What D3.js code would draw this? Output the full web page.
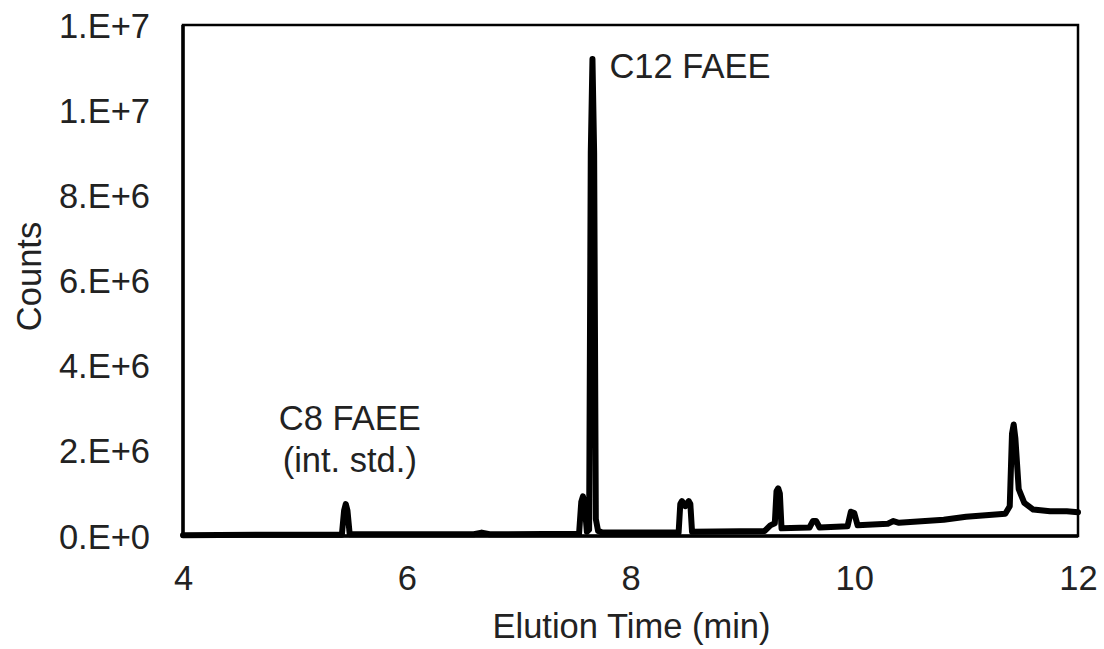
<!DOCTYPE html>
<html>
<head>
<meta charset="utf-8">
<script src="https://cdn.jsdelivr.net/npm/d3@7"></script>
<style>
  html, body { margin: 0; padding: 0; background: #fff; }
  svg { display: block; }
  text { font-family: Arial, "Liberation Sans", sans-serif; fill: #222; }
</style>
</head>
<body>
<svg id="chart" width="1104" height="649"></svg>
<script>
// ---- data ----
const times = [4.00, 4.80, 5.42, 5.44, 5.455, 5.47, 5.49, 6.60, 6.67, 6.74,
  7.54, 7.56, 7.575, 7.59, 7.61, 7.63, 7.645, 7.66, 7.675, 7.69, 7.71, 7.75,
  8.43, 8.445, 8.46, 8.49, 8.52, 8.535, 8.55, 9.20, 9.25, 9.29, 9.305, 9.32, 9.335, 9.35,
  9.60, 9.63, 9.66, 9.69, 9.94, 9.97, 10.00, 10.03, 10.30, 10.35, 10.40, 10.80, 11.00,
  11.35, 11.39, 11.41, 11.425, 11.44, 11.47, 11.52, 11.60, 11.75, 11.90, 12.00];
const counts = [0.02e6, 0.03e6, 0.03e6, 0.60e6, 0.75e6, 0.60e6, 0.04e6, 0.04e6, 0.08e6, 0.04e6,
  0.05e6, 0.80e6, 0.93e6, 0.75e6, 0.10e6, 0.15e6, 9.0e6, 11.2e6, 9.0e6, 0.40e6, 0.12e6, 0.08e6,
  0.08e6, 0.75e6, 0.82e6, 0.70e6, 0.82e6, 0.75e6, 0.10e6, 0.12e6, 0.25e6, 0.30e6, 1.05e6, 1.12e6, 1.00e6, 0.18e6,
  0.20e6, 0.35e6, 0.35e6, 0.20e6, 0.23e6, 0.57e6, 0.54e6, 0.25e6, 0.29e6, 0.35e6, 0.31e6, 0.38e6, 0.45e6,
  0.52e6, 0.70e6, 2.40e6, 2.62e6, 2.30e6, 1.10e6, 0.78e6, 0.62e6, 0.58e6, 0.58e6, 0.56e6];
const xTicks = [4, 6, 8, 10, 12];
const yTicks = [0, 2e6, 4e6, 6e6, 8e6, 10e6, 12e6];
const yTickLabels = ["0.E+0", "2.E+6", "4.E+6", "6.E+6", "8.E+6", "1.E+7", "1.E+7"];
const annotations = [
  { t: 5.455, lines: ["C8 FAEE", "(int. std.)"] },
  { t: 7.66, lines: ["C12 FAEE"] }
];
const xTitle = "Elution Time (min)";
const yTitle = "Counts";

// ---- layout ----
const svg = d3.select("#chart");
const M = { left: 183, right: 1078, top: 25, bottom: 536 };
const x = d3.scaleLinear().domain([4, 12]).range([M.left, M.right]);
const y = d3.scaleLinear().domain([0, 12e6]).range([M.bottom, M.top]);
const FS = 34.5;

// frame (top/right thinner)
svg.append("rect")
  .attr("x", M.left).attr("y", M.top)
  .attr("width", M.right - M.left).attr("height", M.bottom - M.top)
  .attr("fill", "none").attr("stroke", "#000").attr("stroke-width", 2.5);

// data line
const pts = times.map((t, i) => [t, counts[i]]);
svg.append("path")
  .datum(pts)
  .attr("d", d3.line().x(d => x(d[0])).y(d => y(d[1])))
  .attr("fill", "none")
  .attr("stroke", "#000")
  .attr("stroke-width", 6)
  .attr("stroke-linejoin", "round")
  .attr("stroke-linecap", "round");

// left & bottom axis lines (heavier)
svg.append("path")
  .attr("d", `M${M.left},${M.top}V${M.bottom}H${M.right}`)
  .attr("fill", "none").attr("stroke", "#000").attr("stroke-width", 3.5);

// axes
const xAxis = svg.append("g")
  .attr("transform", `translate(0,${M.bottom})`)
  .call(d3.axisBottom(x).tickValues(xTicks).tickSize(0).tickPadding(54).tickFormat(d3.format("d")));
const yAxis = svg.append("g")
  .attr("transform", `translate(${M.left},0)`)
  .call(d3.axisLeft(y).tickValues(yTicks).tickSize(0).tickPadding(33)
        .tickFormat((d, i) => yTickLabels[i]));
[xAxis, yAxis].forEach(a => {
  a.select(".domain").remove();
  a.selectAll("text").attr("font-size", FS).attr("font-family", "Arial, 'Liberation Sans', sans-serif").attr("fill", "#222");
});
xAxis.selectAll("text").attr("dy", 0);
yAxis.selectAll("text").attr("dy", "0.35em");

// annotations
const ann = svg.append("g");
annotations.forEach(a => {
  if (a.lines.length > 1) {
    a.lines.forEach((ln, j) => {
      ann.append("text")
        .attr("x", x(a.t) + 4)
        .attr("y", 430 + j * 42)
        .attr("text-anchor", "middle")
        .attr("font-size", FS)
        .text(ln);
    });
  } else {
    ann.append("text")
      .attr("x", x(a.t) + 17)
      .attr("y", 78)
      .attr("text-anchor", "start")
      .attr("font-size", FS)
      .text(a.lines[0]);
  }
});

// titles
svg.append("text")
  .attr("x", (M.left + M.right) / 2 + 1)
  .attr("y", 638)
  .attr("text-anchor", "middle")
  .attr("font-size", FS)
  .text(xTitle);
svg.append("text")
  .attr("transform", `translate(41,${(M.top + M.bottom) / 2 - 4}) rotate(-90)`)
  .attr("text-anchor", "middle")
  .attr("font-size", FS)
  .text(yTitle);
</script>
</body>
</html>
